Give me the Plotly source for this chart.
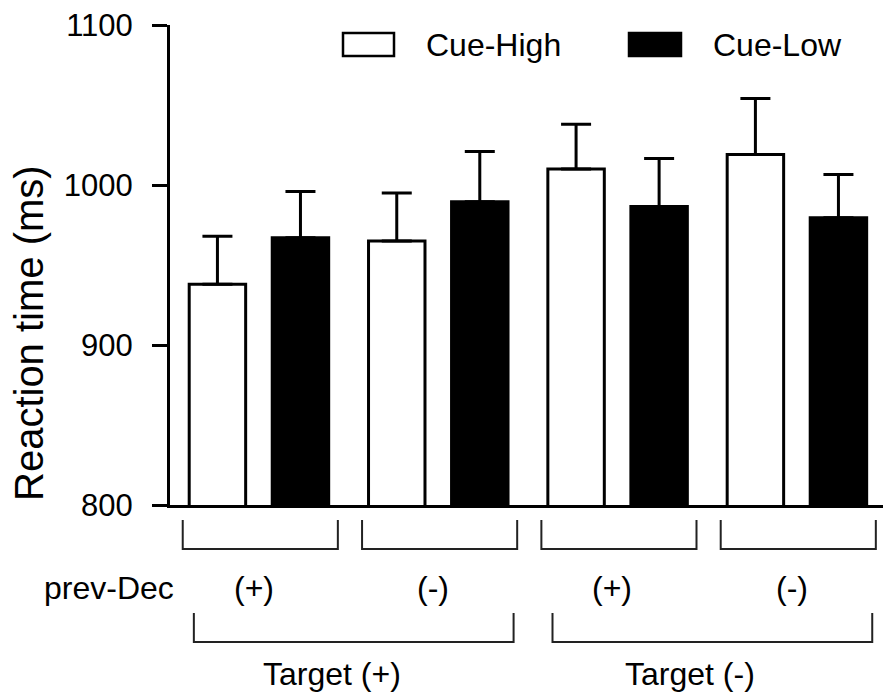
import plotly.graph_objects as go

# ---- data ----
groups = [0, 1, 2, 3]                      # condition index (prev-Dec x Target)
prev_dec_labels = ["(+)", "(-)", "(+)", "(-)"]
target_labels = ["Target (+)", "Target (-)"]
series_names = ["Cue-High", "Cue-Low"]
cue_high = [938, 965, 1010, 1019]
cue_low = [967, 989.5, 986.5, 979.5]
cue_high_err = [30, 30, 28, 35]
cue_low_err = [29, 31.5, 30, 27]
y_ticks = [800, 900, 1000, 1100]

FONT = "Liberation Sans, Arial, Helvetica, sans-serif"

fig = go.Figure()
fig.add_trace(go.Bar(
    x=groups, y=cue_high, name=series_names[0],
    marker=dict(color="white", line=dict(color="black", width=3)),
    error_y=dict(type="data", array=cue_high_err, arrayminus=[0] * 4,
                 symmetric=False, color="black", thickness=3, width=15),
))
fig.add_trace(go.Bar(
    x=groups, y=cue_low, name=series_names[1],
    marker=dict(color="black", line=dict(color="black", width=3)),
    error_y=dict(type="data", array=cue_low_err, arrayminus=[0] * 4,
                 symmetric=False, color="black", thickness=3, width=15),
))

W, H = 883, 695
L, R, T, B = 170, 0, 25, 190
pw, ph = W - L - R, H - T - B

def py(pix):   # pixel y -> paper y
    return (H - B - pix) / ph

def px(pix):   # pixel x -> paper x
    return (pix - L) / pw

shapes = []
annotations = []

# small brackets (prev-Dec)
for g, lab in zip(groups, prev_dec_labels):
    shapes.append(dict(type="path", xref="x", yref="paper",
                       path=f"M {g-0.425},{py(520)} L {g-0.425},{py(549)} L {g+0.44},{py(549)} L {g+0.44},{py(520)}",
                       line=dict(color="#222", width=2)))
    annotations.append(dict(x=g - 0.03, y=py(588), xref="x", yref="paper", text=lab,
                            showarrow=False, font=dict(size=32, color="black", family=FONT),
                            xanchor="center", yanchor="middle"))

# big brackets (Target)
for k, lab in enumerate(target_labels):
    a, b = groups[2 * k], groups[2 * k + 1]
    shapes.append(dict(type="path", xref="x", yref="paper",
                       path=f"M {a-0.363},{py(613)} L {a-0.363},{py(642)} L {b+0.42},{py(642)} L {b+0.42},{py(613)}",
                       line=dict(color="#222", width=2)))
    annotations.append(dict(x=a + 0.405, y=py(674), xref="x", yref="paper", text=lab,
                            showarrow=False, font=dict(size=32, color="black", family=FONT),
                            xanchor="center", yanchor="middle"))

annotations.append(dict(x=px(176), y=py(588), xref="paper", yref="paper", text="prev-Dec",
                        showarrow=False, font=dict(size=32, color="black", family=FONT),
                        xanchor="right", yanchor="middle"))

# y-axis title
annotations.append(dict(x=px(29), y=py(333), xref="paper", yref="paper",
                        text="Reaction time (ms)", textangle=-90, showarrow=False,
                        font=dict(size=40, color="black", family=FONT),
                        xanchor="center", yanchor="middle"))

# manual legend
leg = [(343, 394, "white", series_names[0], 424), (629, 681, "black", series_names[1], 711)]
for x0, x1, col, name, tx in leg:
    shapes.append(dict(type="rect", xref="paper", yref="paper",
                       x0=px(x0), x1=px(x1), y0=py(56), y1=py(33),
                       fillcolor=col, line=dict(color="black", width=2.5)))
    annotations.append(dict(x=px(tx), y=py(45), xref="paper", yref="paper", text=name,
                            showarrow=False, font=dict(size=32, color="black", family=FONT),
                            xanchor="left", yanchor="middle"))

fig.update_layout(
    width=W, height=H,
    margin=dict(l=L, r=R, t=T, b=B, pad=0),
    paper_bgcolor="white", plot_bgcolor="white",
    barmode="group", bargap=0.074, bargroupgap=0.32,
    showlegend=False,
    font=dict(family=FONT, color="black"),
    shapes=shapes, annotations=annotations,
    xaxis=dict(range=[-0.496, 3.48], showticklabels=False, ticks="",
               showgrid=False, zeroline=False, showline=True,
               linecolor="black", linewidth=3, fixedrange=True),
    yaxis=dict(range=[800, 1100], tickvals=y_ticks, ticks="outside", ticklen=15,
               tickwidth=3, tickcolor="black", showline=True, linecolor="black",
               linewidth=3, showgrid=False, zeroline=False,
               tickfont=dict(size=31, family=FONT, color="black"),
               ticklabelstandoff=13),
)

fig.write_html("out.html")
